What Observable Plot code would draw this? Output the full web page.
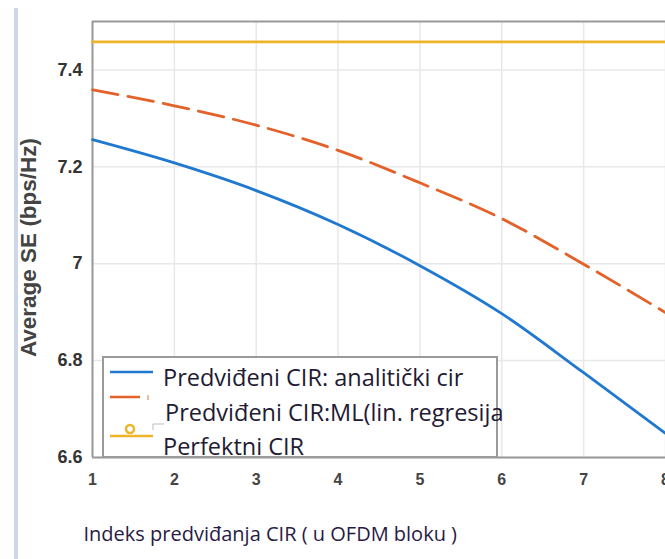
<!DOCTYPE html>
<html>
<head>
<meta charset="utf-8">
<script src="https://cdn.jsdelivr.net/npm/d3@7"></script>
<script src="https://cdn.jsdelivr.net/npm/@observablehq/plot@0.6"></script>
<style>
  html, body { margin: 0; padding: 0; background: #fff; overflow: hidden; }
  #wrap { position: relative; width: 665px; height: 559px; }
  #bar { position: absolute; left: 14px; top: 8px; width: 4px; height: 551px; background: #cdd7e8; }
  #legend { position: absolute; left: 102px; top: 356px; width: 396px; height: 102px; box-sizing: border-box;
            border: 2px solid #9a9a9a; background: #fff; overflow: visible;
            font-family: "Open Sans", sans-serif; font-size: 23.5px; line-height: 1; color: #231a33; }
  #legend svg { position: absolute; left: 0; top: 0; }
  #legend span { position: absolute; white-space: nowrap; }
</style>
</head>
<body>
<div id="wrap"><div id="bar"></div><div id="chart"></div><div id="legend"></div></div>
<script>
const indices = [1, 2, 3, 4, 5, 6, 7, 8];
const analytic = [7.256, 7.208, 7.151, 7.081, 6.996, 6.897, 6.775, 6.65];
const mlRegression = [7.359, 7.326, 7.286, 7.234, 7.167, 7.093, 6.999, 6.899];
const perfect = [7.458, 7.458, 7.458, 7.458, 7.458, 7.458, 7.458, 7.458];
const seriesNames = ["Predviđeni CIR: analitički cir", "Predviđeni CIR:ML(lin. regresija", "Perfektni CIR"];
const seriesColors = ["#2079cf", "#e2622a", "#f0b429"];
const yTicks = [6.6, 6.8, 7, 7.2, 7.4];
const yTickLabels = ["6.6", "6.8", "7", "7.2", "7.4"];
const xTicks = [1, 2, 3, 4, 5, 6, 7, 8];
const xTickLabels = ["1", "2", "3", "4", "5", "6", "7", "8"];
const xTitle = "Indeks predviđanja CIR ( u OFDM bloku )";
const yTitle = "Average SE (bps/Hz)";

const rows = (vals, s) => indices.map((x, i) => ({x, y: vals[i], s}));
const dAnalytic = rows(analytic, seriesNames[0]);
const dML = rows(mlRegression, seriesNames[1]);
const dPerfect = rows(perfect, seriesNames[2]);

const chart = Plot.plot({
  width: 665,
  height: 559,
  marginLeft: 92,
  marginRight: 0,
  marginTop: 21,
  marginBottom: 102,
  style: {background: "transparent", fontFamily: "'Liberation Sans', Arial, sans-serif"},
  x: {domain: [1, 8]},
  y: {domain: [6.6, 7.5]},
  marks: [
    Plot.gridX(xTicks, {stroke: "#e8e8e8", strokeOpacity: 1, strokeWidth: 1.5}),
    Plot.gridY(yTicks, {stroke: "#e8e8e8", strokeOpacity: 1, strokeWidth: 1.5}),
    Plot.ruleY([7.5], {stroke: "#999", strokeWidth: 2}),
    Plot.ruleX([1], {stroke: "#999", strokeWidth: 2}),
    Plot.ruleY([6.6], {stroke: "#999", strokeWidth: 2}),
    Plot.axisX({ticks: xTicks, tickFormat: d => xTickLabels[xTicks.indexOf(d)], tickSize: 0, tickPadding: 16, fontSize: 16, fontWeight: "bold", fill: "#444", label: null}),
    Plot.axisY({ticks: yTicks, tickFormat: d => yTickLabels[yTicks.indexOf(d)], tickSize: 0, tickPadding: 10, fontSize: 18, fontWeight: "bold", fill: "#333", label: null}),
    Plot.line(dPerfect, {x: "x", y: "y", stroke: seriesColors[2], strokeWidth: 2.8}),
    Plot.line(dML, {x: "x", y: "y", stroke: seriesColors[1], strokeWidth: 2.8, strokeDasharray: "26,10", curve: "monotone-x"}),
    Plot.line(dAnalytic, {x: "x", y: "y", stroke: seriesColors[0], strokeWidth: 2.8, curve: "monotone-x"}),
    Plot.text([yTitle], {frameAnchor: "left", textAnchor: "middle", rotate: -90, dx: -64, dy: 8, fontSize: 22.5, fontWeight: "bold", fill: "#444"}),
    Plot.text([xTitle], {frameAnchor: "bottom-left", textAnchor: "start", dx: -9, dy: 83, fontSize: 20, fill: "#2a1a44", fontFamily: "'Open Sans', sans-serif"})
  ]
});
document.getElementById("chart").appendChild(chart);

// legend (positions relative to legend's inner box)
const legend = document.getElementById("legend");
legend.innerHTML = `<svg width="392" height="98">
  <line x1="6" y1="14" x2="49" y2="14" stroke="${seriesColors[0]}" stroke-width="2.5"/>
  <line x1="6" y1="39" x2="36" y2="39" stroke="${seriesColors[1]}" stroke-width="2.5"/>
  <line x1="44" y1="37" x2="44" y2="42" stroke="${seriesColors[1]}" stroke-width="1.5" opacity="0.6"/>
  <path d="M49 72 V66 H60" fill="none" stroke="#bbb" stroke-width="1"/>
  <line x1="6" y1="78" x2="49" y2="78" stroke="${seriesColors[2]}" stroke-width="2.5"/>
  <circle cx="26" cy="71" r="4" fill="#fff" stroke="${seriesColors[2]}" stroke-width="2.5"/>
</svg>`;
const textPos = [[59, 8], [61, 43], [59, 77]];
seriesNames.forEach((name, i) => {
  const sp = document.createElement("span");
  sp.textContent = name;
  sp.style.left = textPos[i][0] + "px";
  sp.style.top = textPos[i][1] + "px";
  legend.appendChild(sp);
});
</script>
</body>
</html>
